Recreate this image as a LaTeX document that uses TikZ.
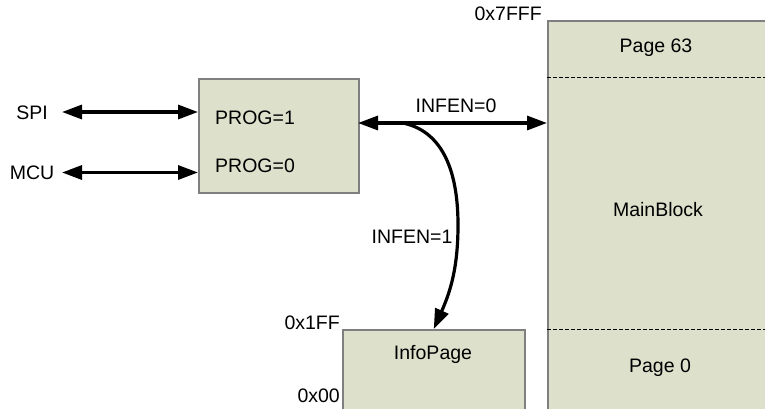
\documentclass[tikz,border=0pt]{standalone}
\usepackage{fontspec}
\setmainfont{Liberation Sans}
\usetikzlibrary{arrows.meta}
\definecolor{boxfill}{HTML}{DDE1CB}
\definecolor{boxline}{HTML}{7F7F7F}
\tikzset{
  box/.style={draw=boxline, line width=1.5pt, fill=boxfill, anchor=north west, inner sep=0pt},
  lbl/.style={inner sep=0pt, font=\fontsize{19.5}{23}\selectfont, text=black},
  biarrow/.style={line width=3.2pt, {Triangle[length=20pt,width=14pt]}-{Triangle[length=20pt,width=14pt]}},
  onearrow/.style={line width=3.2pt, -{Triangle[length=20pt,width=14pt]}},
  sep/.style={dash pattern=on 4pt off 2pt, line width=1pt, black},
}
\begin{document}
\begin{tikzpicture}[x=1pt,y=-1pt]
\clip (0,0) rectangle (765,408);
\fill[white] (0,0) rectangle (765,408);
% main memory block
\node[box, minimum width=240pt, minimum height=400pt] (main) at (547,20) {};
\coordinate (sepA) at (547,77);
\coordinate (sepB) at (547,329);
\draw[sep] (sepA) -- ++(240,0);
\draw[sep] (sepB) -- ++(240,0);
\node[lbl] (p63) at (656,48) {Page 63};
\node[lbl] (mb) at (658,210) {MainBlock};
\node[lbl] (p0) at (660,368) {Page 0};
\node[lbl, anchor=base east] (a7fff) at (542,20) {0x7FFF};
% info page
\node[box, minimum width=182pt, minimum height=100pt] (info) at (342,329) {};
\node[lbl] (ip) at (433,354) {InfoPage};
\node[lbl, anchor=base east] (a1ff) at (340,329) {0x1FF};
\node[lbl, anchor=base east] (a00) at (340,402) {0x00};
% prog box
\node[box, minimum width=160pt, minimum height=114pt] (prog) at (198,78) {};
\node[lbl, anchor=west] (p1) at (215,118) {PROG=1};
\node[lbl, anchor=west] (p0b) at (215,166) {PROG=0};
% left labels
\node[lbl] (spi) at (32,113) {SPI};
\node[lbl] (mcu) at (32,173) {MCU};
\coordinate (spiE) at (62,112);
\coordinate (mcuE) at (62,172.5);
\draw[biarrow] (spiE) -- (spiE -| prog.west);
\draw[biarrow] (mcuE) -- (mcuE -| prog.west);
% INFEN=0
\coordinate (inf0) at (358,123);
\draw[biarrow] (inf0) -- (inf0 -| main.west);
\node[lbl] (l0) at (456,106) {INFEN=0};
% INFEN=1 curve
\coordinate (split) at (403,123);
\coordinate (mid) at (458,225);
\draw[onearrow] (split) to[out=-12,in=90] (mid) to[out=-90,in=66] (info.north);
\node[lbl] (l1) at (412,237) {INFEN=1};
\end{tikzpicture}
\end{document}
